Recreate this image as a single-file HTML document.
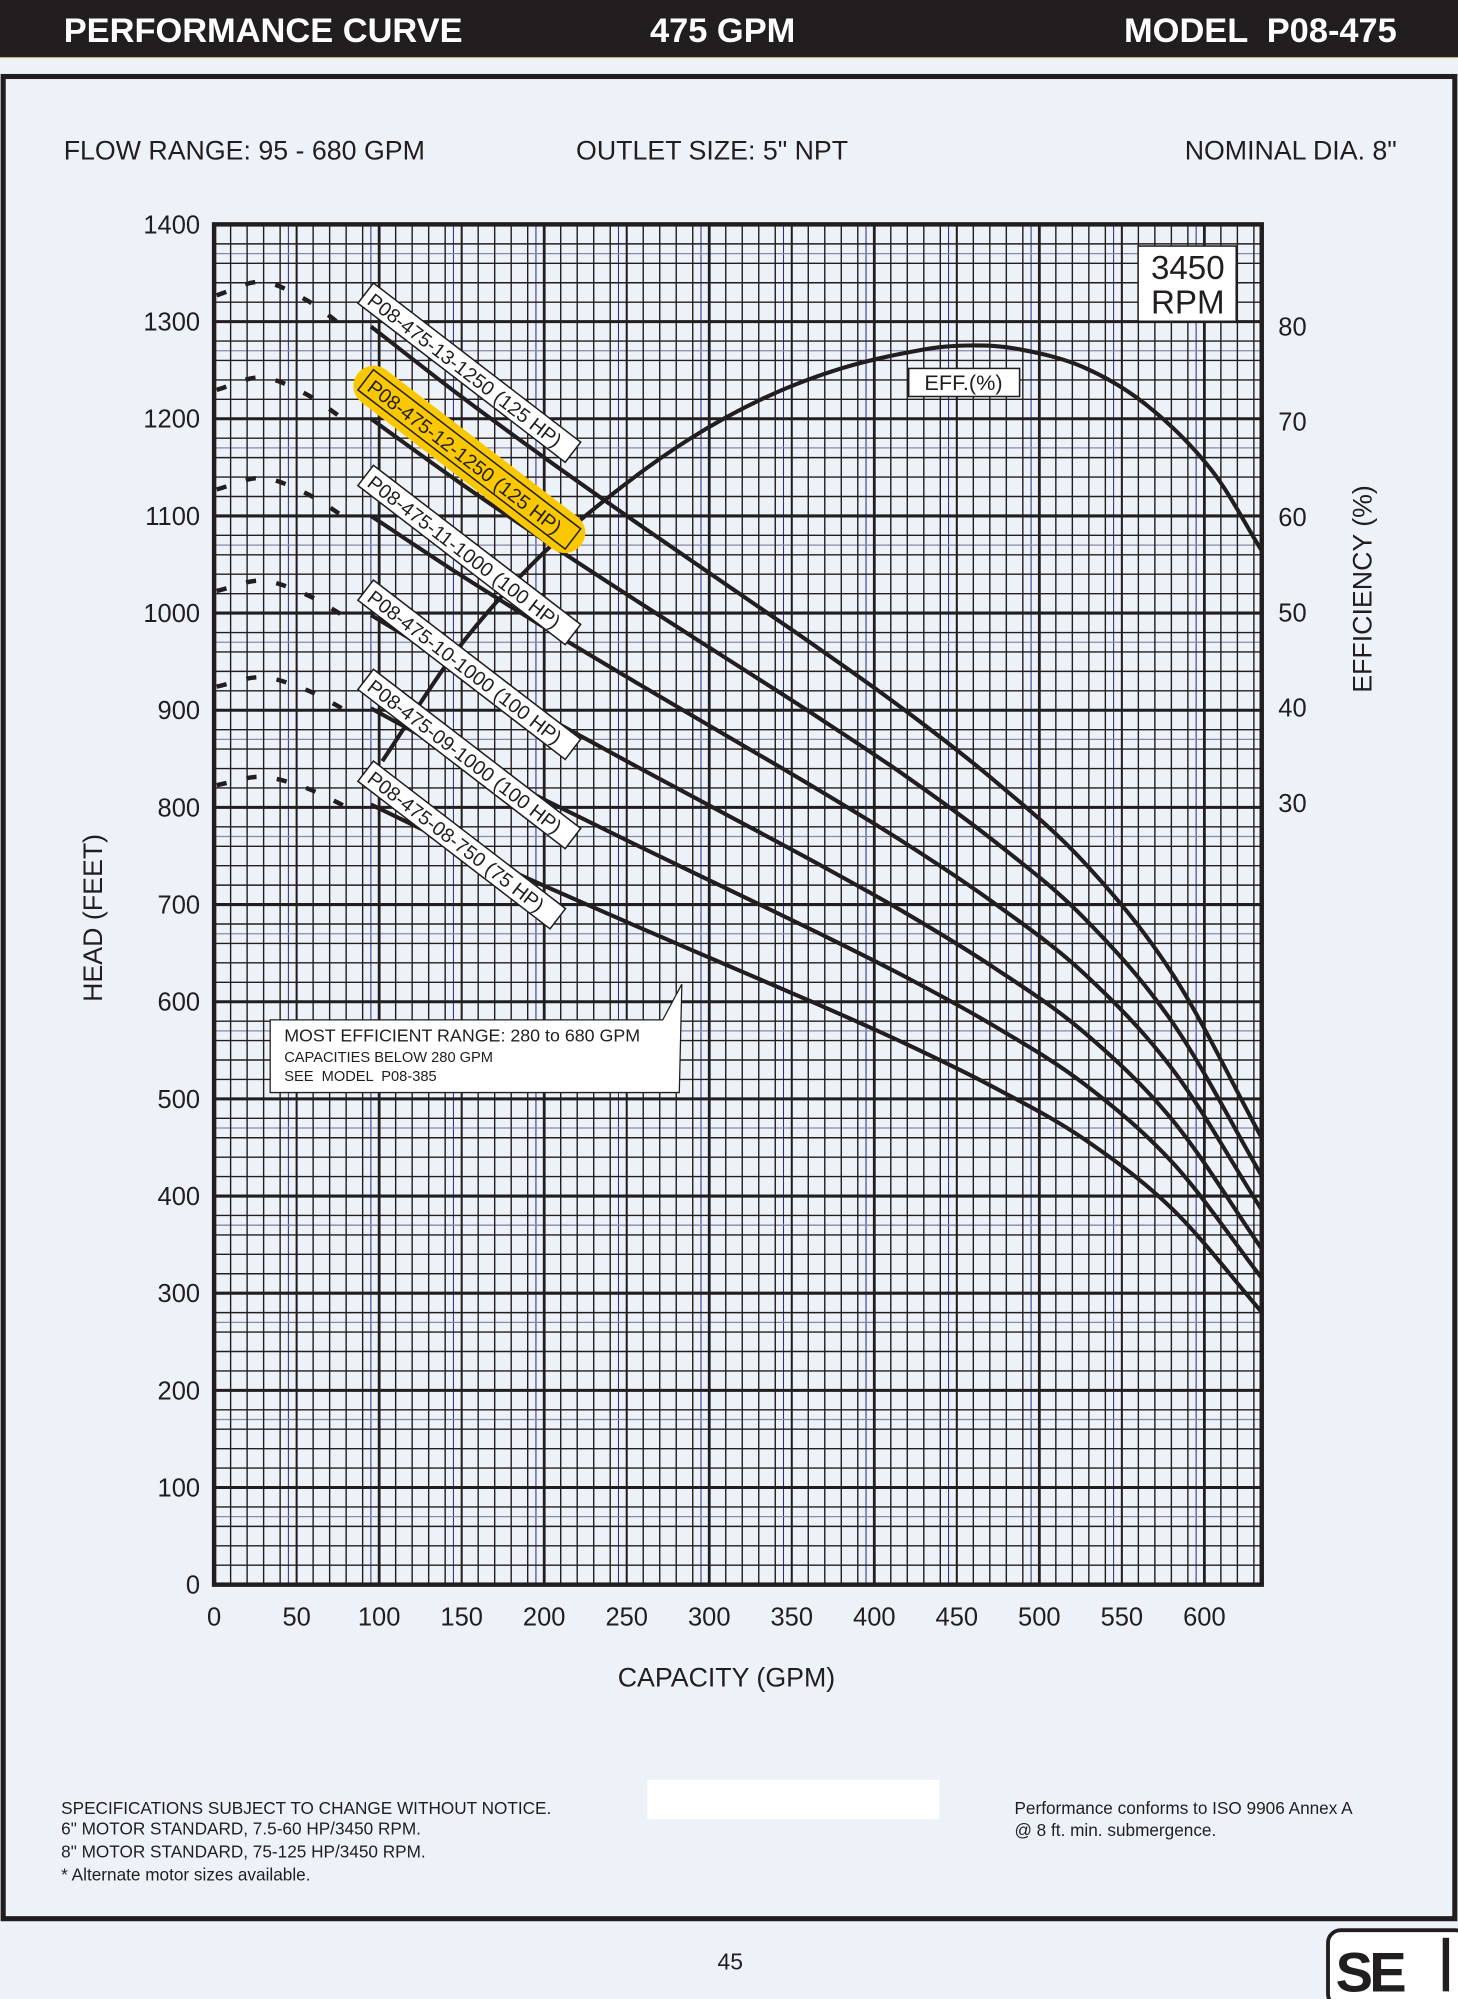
<!DOCTYPE html>
<html><head><meta charset="utf-8">
<style>
html,body{margin:0;padding:0;background:#edf2f9;}
svg{display:block;}
text{font-family:"Liberation Sans",Arial,sans-serif;}
</style></head>
<body>
<svg id="s" width="1458" height="1999" viewBox="0 0 1144 1568" preserveAspectRatio="none" xmlns="http://www.w3.org/2000/svg">
<rect x="0" y="0" width="1144" height="1568" fill="#edf2f9"/>
<rect x="0" y="0" width="1144" height="45" fill="#221e1f"/>
<line x1="0" y1="45.5" x2="1144" y2="45.5" stroke="#e8e8b0" stroke-width="1"/>
<text x="50" y="33" font-size="27" font-weight="bold" fill="#fff">PERFORMANCE CURVE</text>
<text x="510" y="33" font-size="27" font-weight="bold" fill="#fff">475 GPM</text>
<text x="1096" y="33" font-size="27" font-weight="bold" fill="#fff" text-anchor="end" xml:space="preserve">MODEL  P08-475</text>
<rect x="2.5" y="60" width="1139" height="1445" fill="none" stroke="#221e1f" stroke-width="4"/>
<text x="50" y="125" font-size="21" fill="#221e1f">FLOW RANGE: 95 - 680 GPM</text>
<text x="452" y="125" font-size="21" fill="#221e1f">OUTLET SIZE: 5" NPT</text>
<text x="1096" y="125" font-size="21" fill="#221e1f" text-anchor="end">NOMINAL DIA. 8"</text>
<g id="grid"></g>
<g id="curves"></g>
<g id="labels"></g>
<rect x="168" y="176" width="822" height="1067" fill="none" stroke="#221e1f" stroke-width="3.5"/>
<g font-size="20" fill="#221e1f" text-anchor="end" id="yt"></g>
<g font-size="20" fill="#221e1f" text-anchor="middle" id="xt"></g>
<g font-size="20" fill="#221e1f" id="rt"></g>
<text transform="translate(80,720) rotate(-90)" font-size="21" fill="#221e1f" text-anchor="middle">HEAD (FEET)</text>
<text transform="translate(1076,462) rotate(-90)" font-size="21" fill="#221e1f" text-anchor="middle">EFFICIENCY (%)</text>
<text x="570" y="1323" font-size="21" fill="#221e1f" text-anchor="middle">CAPACITY (GPM)</text>
<rect x="893" y="193" width="77" height="59" fill="#fff" stroke="#221e1f" stroke-width="1.2"/>
<text x="932" y="219" font-size="26" fill="#221e1f" text-anchor="middle">3450</text>
<text x="932" y="246" font-size="26" fill="#221e1f" text-anchor="middle">RPM</text>
<rect x="713" y="289" width="87" height="22" fill="#fff" stroke="#221e1f" stroke-width="1.2"/>
<text x="756" y="306" font-size="17" fill="#221e1f" text-anchor="middle">EFF.(%)</text>
<path d="M212,800 L520,800 L535,772 L533,857 L212,857 Z" fill="#fff" stroke="#221e1f" stroke-width="1"/>
<text x="223" y="817" font-size="14" fill="#221e1f">MOST EFFICIENT RANGE: 280 to 680 GPM</text>
<text x="223" y="833" font-size="11.5" fill="#221e1f">CAPACITIES BELOW 280 GPM</text>
<text x="223" y="848" font-size="11.5" fill="#221e1f" xml:space="preserve">SEE  MODEL  P08-385</text>
<text x="48" y="1423" font-size="13.5" fill="#221e1f">SPECIFICATIONS SUBJECT TO CHANGE WITHOUT NOTICE.</text>
<text x="48" y="1439" font-size="13.5" fill="#221e1f">6" MOTOR STANDARD, 7.5-60 HP/3450 RPM.</text>
<text x="48" y="1457" font-size="13.5" fill="#221e1f">8" MOTOR STANDARD, 75-125 HP/3450 RPM.</text>
<text x="48" y="1475" font-size="13.5" fill="#221e1f">* Alternate motor sizes available.</text>
<rect x="508" y="1396" width="229" height="31" fill="#fff"/>
<text x="796" y="1423" font-size="13.5" fill="#221e1f">Performance conforms to ISO 9906 Annex A</text>
<text x="796" y="1440" font-size="13.5" fill="#221e1f">@ 8 ft. min. submergence.</text>
<text x="573" y="1545" font-size="18" fill="#221e1f" text-anchor="middle">45</text>
<rect x="1042" y="1514" width="110" height="60" rx="10" fill="#fff" stroke="#221e1f" stroke-width="3"/>
<text x="1048" y="1562" font-size="44" font-weight="bold" fill="#221e1f" letter-spacing="-3">SE</text>
<rect x="1132" y="1520" width="5" height="42" fill="#221e1f"/>
</svg>
<script>
var NS="http://www.w3.org/2000/svg";
function el(p,t,a){var e=document.createElementNS(NS,t);for(var k in a)e.setAttribute(k,a[k]);p.appendChild(e);return e;}
var X=function(q){return 168+q*1.295;}, Y=function(h){return 1243-h*0.7621;};
var g=document.getElementById('grid');
for(var q=45;q<635;q+=50){var x=X(q);el(g,'line',{x1:x,y1:176,x2:x,y2:1243,stroke:'#2a2a8a','stroke-width':0.8});}
for(var h=70;h<1400;h+=100){var y=Y(h);el(g,'line',{x1:168,y1:y,x2:990,y2:y,stroke:'#8888a8','stroke-width':1});}
for(var q=10;q<635;q+=10){var x=X(q);var w=(q%100==0)?2.2:(q%50==0?1.6:1.1);el(g,'line',{x1:x,y1:176,x2:x,y2:1243,stroke:'#221e1f','stroke-width':w});}
for(var h=20;h<1400;h+=20){var y=Y(h);var w=(h%100==0)?2.4:1.1;el(g,'line',{x1:168,y1:y,x2:990,y2:y,stroke:'#221e1f','stroke-width':w});}
var yt=document.getElementById('yt');
for(var h=0;h<=1400;h+=100){var t=el(yt,'text',{x:157,y:Y(h)+7});t.textContent=h;}
var xt=document.getElementById('xt');
for(var q=0;q<=600;q+=50){var t=el(xt,'text',{x:X(q),y:1275});t.textContent=q;}
var rt=document.getElementById('rt');
for(var e=30;e<=80;e+=10){var t=el(rt,'text',{x:1003,y:256+(80-e)*7.48+7});t.textContent=e;}
function cr(pts){var d='M'+pts[0][0]+','+pts[0][1];for(var i=0;i<pts.length-1;i++){var p0=pts[i-1]||pts[i],p1=pts[i],p2=pts[i+1],p3=pts[i+2]||[2*p2[0]-p1[0],2*p2[1]-p1[1]];
if(!pts[i-1])p0=[2*p1[0]-p2[0],2*p1[1]-p2[1]];
d+=' C'+(p1[0]+(p2[0]-p0[0])/6)+','+(p1[1]+(p2[1]-p0[1])/6)+' '+(p2[0]-(p3[0]-p1[0])/6)+','+(p2[1]-(p3[1]-p1[1])/6)+' '+p2[0]+','+p2[1];}return d;}
var sv=[1,.945,.893,.843,.794,.745,.694,.638,.573,.483,.352];
var starts=[1295,1200,1100,998,902,803];
var ends=[459,420,385,345,315,280];
var c=document.getElementById('curves');
starts.forEach(function(s,i){var r=ends[i]/s;var pts=sv.map(function(v,j){var t=j/10;var vv=v+(r-.352)*t*t*t;return [X(95+54*j),Y(s*vv)];});
el(c,'path',{d:cr(pts),fill:'none',stroke:'#221e1f','stroke-width':3.2});
var y0=Y(s),sh=s*0.027;
var dp=[[170,y0-sh*0.7],[205,y0-sh*1.0],[240,y0-sh*0.6],[272,y0+2]];
el(c,'path',{d:cr(dp),fill:'none',stroke:'#221e1f','stroke-width':3.5,'stroke-dasharray':'8,16'});});
var eff=[[300,597],[360,508],[420,440],[480,388],[540,345],[600,312],[660,289],[720,275],[760,271],[800,274],[850,288],[900,318],[950,368],[990,432]];
el(c,'path',{d:cr(eff),fill:'none',stroke:'#221e1f','stroke-width':3.2});
var L=document.getElementById('labels');
var labs=[[293,222,'P08-475-13-1250 (125 HP)',0],[293,290,'P08-475-12-1250 (125 HP)',1],[293,365,'P08-475-11-1000 (100 HP)',0],[293,455,'P08-475-10-1000 (100 HP)',0],[293,525,'P08-475-09-1000 (100 HP)',0],[293,597,'P08-475-08-750 (75 HP)',0]];
labs.forEach(function(l){var gg=el(L,'g',{transform:'translate('+l[0]+','+l[1]+') rotate(37.5)'});
var w=l[2].length>23?205:190;
if(l[3]){el(gg,'rect',{x:-8,y:-6,width:w+16,height:32,rx:16,fill:'#f9c800'});}
el(gg,'rect',{x:0,y:0,width:w,height:20,fill:l[3]?'#f9c800':'#fff',stroke:'#221e1f','stroke-width':1.2});
var t=el(gg,'text',{x:5,y:16,'font-size':15.5,fill:'#221e1f'});t.textContent=l[2];});
</script>
</body></html>
